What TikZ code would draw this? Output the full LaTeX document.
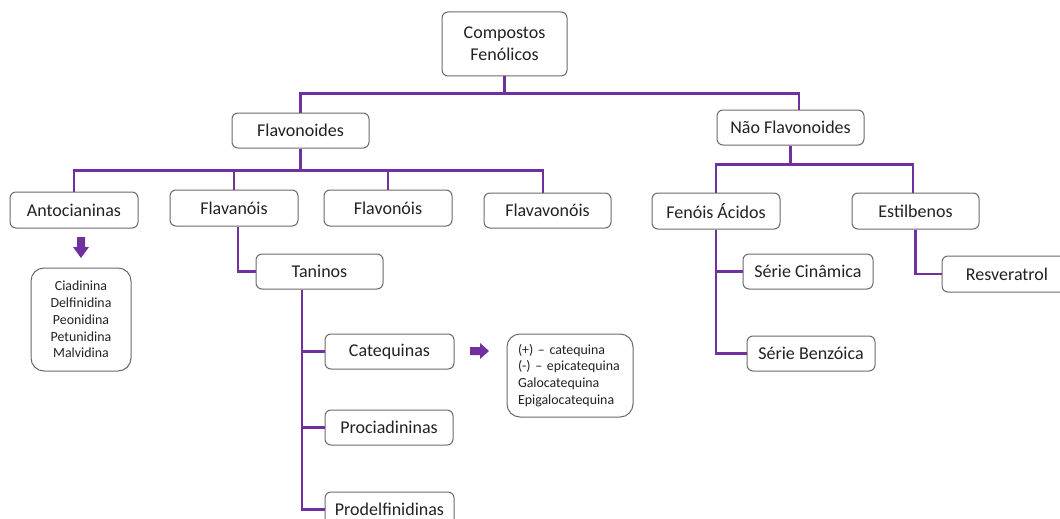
\documentclass[tikz,border=0pt]{standalone}
\usepackage{fontspec}
\setmainfont{Carlito}
\definecolor{lnpurple}{HTML}{7030A0}
\definecolor{boxgray}{HTML}{6A6A6A}
\definecolor{txt}{HTML}{222222}
\tikzset{
  box/.style={draw=boxgray, line width=1pt, rounded corners=6pt, text=txt, align=center, inner sep=0pt,
    font=\fontsize{18}{22}\selectfont},
  listbox/.style={draw=boxgray, line width=1pt, rounded corners=13pt, text=txt, inner sep=0pt,
    font=\fontsize{13.9}{16.8}\selectfont},
  conn/.style={draw=lnpurple, line width=2.4pt},
  blockarrow/.style={fill=lnpurple, draw=none}
}
\begin{document}
\begin{tikzpicture}[x=1pt,y=-1pt]
\clip (0,0) rectangle (1060,519);
\fill[white] (0,0) rectangle (1060,519);
% nodes
\node[box, minimum width=125pt, minimum height=64pt] (comp) at (504.5,44) {Compostos\\Fenólicos};
\node[box, minimum width=137pt, minimum height=35pt] (flav) at (300.5,130.5) {Flavonoides};
\node[box, minimum width=147pt, minimum height=35pt] (nflav) at (790.5,127.5) {Não Flavonoides};
\node[box, minimum width=128pt, minimum height=36pt] (antoc) at (74,210) {Antocianinas};
\node[box, minimum width=128pt, minimum height=36pt] (flavanois) at (234,208) {Flavanóis};
\node[box, minimum width=128pt, minimum height=36pt] (flavonois) at (388,208) {Flavonóis};
\node[box, minimum width=127pt, minimum height=35pt] (flavavonois) at (547.5,210.5) {Flavavonóis};
\node[box, minimum width=128pt, minimum height=36pt] (fenois) at (716,211) {Fenóis Ácidos};
\node[box, minimum width=127pt, minimum height=36pt] (estil) at (915.5,211) {Estilbenos};
\node[listbox, minimum width=100pt, minimum height=103pt, align=center] (antlist) at (81,319.5)
  {Ciadinina\\Delfinidina\\Peonidina\\Petunidina\\Malvidina};
\node[box, minimum width=127pt, minimum height=35pt] (taninos) at (319.5,271.5) {Taninos};
\node[box, minimum width=129pt, minimum height=35pt] (cateq) at (389.5,351.5) {Catequinas};
\node[box, minimum width=128pt, minimum height=35pt] (procia) at (389,427.5) {Prociadininas};
\node[box, minimum width=129pt, minimum height=35pt] (prodel) at (389.5,509.5) {Prodelfinidinas};
\node[listbox, minimum width=126pt, minimum height=83pt, align=left, text width=104pt, inner xsep=11pt] (catlist) at (570,375.5)
  {\mbox{(+) – catequina}\\\mbox{(-) – epicatequina}\\\mbox{Galocatequina}\\\mbox{Epigalocatequina}};
\node[box, minimum width=130pt, minimum height=35pt] (cin) at (808,271.5) {Série Cinâmica};
\node[box, minimum width=128pt, minimum height=35pt] (benz) at (811,353.5) {Série Benzóica};
\node[box, minimum width=130pt, minimum height=36pt] (resv) at (1007,274) {Resveratrol};
% connectors
\draw[conn] (comp.south) -- ++(0,16);
\draw[conn] (flav.north) -- ++(0,-19) -| ([xshift=8.5pt]nflav.north);
\draw[conn] (flav.south) -- ++(0,22) coordinate (fbus);
\draw[conn] (antoc.north) |- ([xshift=-4.5pt]flavavonois.north |- fbus) -- ([xshift=-4.5pt]flavavonois.north);
\draw[conn] (flavanois.north) -- (flavanois.north |- fbus);
\draw[conn] (flavonois.north) -- (flavonois.north |- fbus);
\draw[conn] (nflav.south) -- ++(0,19) coordinate (nbus);
\draw[conn] (fenois.north) |- ([xshift=-2.5pt]estil.north |- nbus) -- ([xshift=-2.5pt]estil.north);
\draw[conn] ([xshift=4pt]flavanois.south) |- (taninos.west);
\draw[conn] ([xshift=-17.5pt]taninos.south) |- (cateq.west);
\draw[conn] ([xshift=-17.5pt]taninos.south) |- (procia.west);
\draw[conn] ([xshift=-17.5pt]taninos.south) |- (prodel.west);
\draw[conn] (fenois.south) |- (cin.west);
\draw[conn] (fenois.south) |- (benz.west);
\draw[conn] (estil.south) |- (resv.west);
% block arrows
\fill[blockarrow] (77,237) -- (85,237) -- (85,247) -- (89,247) -- (81,258) -- (73,247) -- (77,247) -- cycle;
\fill[blockarrow] (470,347) -- (480,347) -- (480,343) -- (489,351) -- (480,359) -- (480,355) -- (470,355) -- cycle;
\end{tikzpicture}
\end{document}
